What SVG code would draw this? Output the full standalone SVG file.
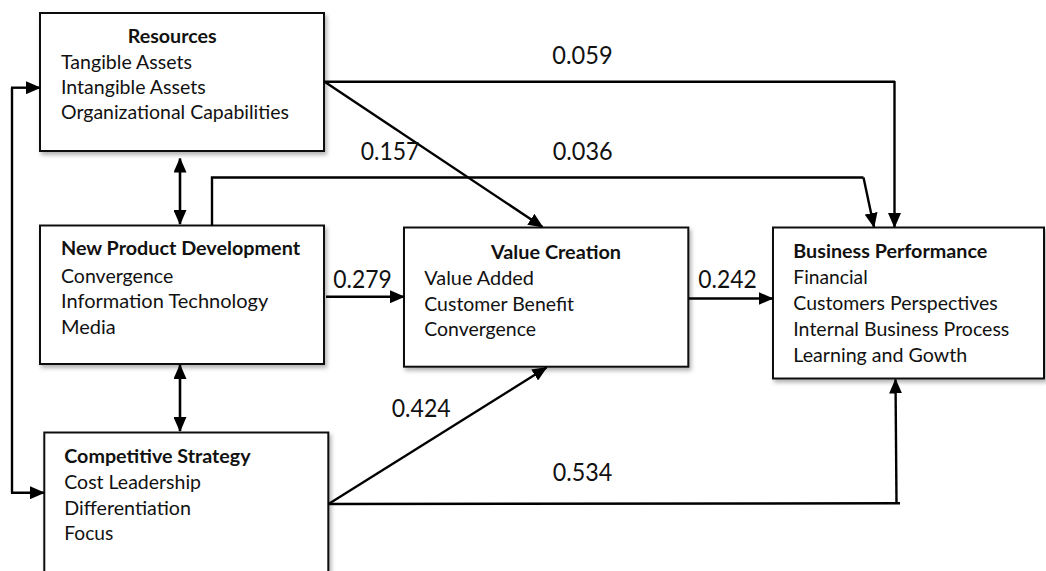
<svg xmlns="http://www.w3.org/2000/svg" width="1046" height="571" viewBox="0 0 1046 571">
  <style>
    .box { fill: #ffffff; stroke: #111111; stroke-width: 2; filter: url(#shadow); }
    .t { font-family: "Lato", "Liberation Sans", sans-serif; font-size: 20px; fill: #111111; }
    .h { font-family: "Lato", "Liberation Sans", sans-serif; font-size: 19.5px; font-weight: bold; fill: #111111; }
    .n { font-family: "Lato", "Liberation Sans", sans-serif; font-size: 25.5px; fill: #111111; }
    .c { fill: none; stroke: #000000; stroke-width: 2.4; }
    .ca { fill: none; stroke: #000000; stroke-width: 2.4; marker-end: url(#ah); }
    .cd { fill: none; stroke: #000000; stroke-width: 2.6; marker-start: url(#ah); marker-end: url(#ah); }
  </style>
  <defs>
    <filter id="shadow" x="-5%" y="-5%" width="115%" height="120%">
      <feDropShadow dx="2" dy="3" stdDeviation="2" flood-color="#000000" flood-opacity="0.3"/>
    </filter>
    <marker id="ah" viewBox="0 0 15 13" refX="14" refY="6.5" markerWidth="15" markerHeight="13" markerUnits="userSpaceOnUse" orient="auto-start-reverse">
      <path d="M0,0 L15,6.5 L0,13 Z" fill="#000000"/>
    </marker>
  </defs>

  <g id="resources">
    <rect class="box" x="40" y="13" width="284" height="138"/>
    <text class="h" x="127.7" y="43.3" textLength="89" lengthAdjust="spacingAndGlyphs">Resources</text>
    <text class="t" x="61" y="69.3" textLength="131" lengthAdjust="spacingAndGlyphs">Tangible Assets</text>
    <text class="t" x="61" y="94.3" textLength="144.7" lengthAdjust="spacingAndGlyphs">Intangible Assets</text>
    <text class="t" x="61" y="119.3" textLength="228" lengthAdjust="spacingAndGlyphs">Organizational Capabilities</text>
  </g>

  <g id="new-product-development">
    <rect class="box" x="40" y="225.5" width="284" height="138.5"/>
    <text class="h" x="61" y="255" textLength="239" lengthAdjust="spacingAndGlyphs">New Product Development</text>
    <text class="t" x="61" y="282.7" textLength="112.3" lengthAdjust="spacingAndGlyphs">Convergence</text>
    <text class="t" x="61" y="308.3" textLength="207.3" lengthAdjust="spacingAndGlyphs">Information Technology</text>
    <text class="t" x="61" y="334" textLength="54.7" lengthAdjust="spacingAndGlyphs">Media</text>
  </g>

  <g id="competitive-strategy">
    <rect class="box" x="44.3" y="432.5" width="284" height="170"/>
    <text class="h" x="64.3" y="462.7" textLength="186.3" lengthAdjust="spacingAndGlyphs">Competitive Strategy</text>
    <text class="t" x="64.3" y="488.7" textLength="136.7" lengthAdjust="spacingAndGlyphs">Cost Leadership</text>
    <text class="t" x="64.3" y="515" textLength="126.7" lengthAdjust="spacingAndGlyphs">Differentiation</text>
    <text class="t" x="64.3" y="540" textLength="49" lengthAdjust="spacingAndGlyphs">Focus</text>
  </g>

  <g id="value-creation">
    <rect class="box" x="404" y="227.5" width="284.3" height="139.2"/>
    <text class="h" x="491" y="259.3" textLength="130" lengthAdjust="spacingAndGlyphs">Value Creation</text>
    <text class="t" x="424.3" y="285" textLength="109.7" lengthAdjust="spacingAndGlyphs">Value Added</text>
    <text class="t" x="424.3" y="310.7" textLength="149.7" lengthAdjust="spacingAndGlyphs">Customer Benefit</text>
    <text class="t" x="424.3" y="336" textLength="111.7" lengthAdjust="spacingAndGlyphs">Convergence</text>
  </g>

  <g id="business-performance">
    <rect class="box" x="773" y="227.5" width="271" height="151"/>
    <text class="h" x="793.3" y="258.3" textLength="194" lengthAdjust="spacingAndGlyphs">Business Performance</text>
    <text class="t" x="793.3" y="284.3" textLength="74.4" lengthAdjust="spacingAndGlyphs">Financial</text>
    <text class="t" x="793.3" y="310" textLength="204.4" lengthAdjust="spacingAndGlyphs">Customers Perspectives</text>
    <text class="t" x="793.3" y="335.5" textLength="216" lengthAdjust="spacingAndGlyphs">Internal Business Process</text>
    <text class="t" x="793.3" y="361.5" textLength="174" lengthAdjust="spacingAndGlyphs">Learning and Gowth</text>
  </g>

  <g id="connectors">
    <path class="c" d="M12,87.7 L12,492.7"/>
    <path class="ca" d="M11,87.7 L40,87.7"/>
    <path class="ca" d="M11,492.7 L44,492.7"/>
    <path class="cd" d="M180,158.5 L180,224"/>
    <path class="cd" d="M180,365 L180,431"/>
    <path class="c" d="M324,81.7 L895,81.7"/>
    <path class="ca" d="M894.5,81 L894.5,227"/>
    <path class="ca" d="M325,82 L542.5,227"/>
    <path class="c" d="M212,225.5 L212,177.5 L863.5,177.5"/>
    <path class="ca" d="M863.5,177.5 L874,227"/>
    <path class="ca" d="M326,296.7 L404,296.7"/>
    <path class="ca" d="M689,298.5 L772.5,298.5"/>
    <path class="ca" d="M328.5,504 L546.5,367.5"/>
    <path class="c" d="M328.5,504 L900,503.3"/>
    <path class="ca" d="M896.5,503.3 L895.5,379.5"/>
  </g>

  <g id="labels">
    <text class="n" x="552.3" y="64" textLength="60.4" lengthAdjust="spacingAndGlyphs">0.059</text>
    <text class="n" x="360.7" y="160" textLength="58.6" lengthAdjust="spacingAndGlyphs">0.157</text>
    <text class="n" x="552.7" y="160" textLength="60" lengthAdjust="spacingAndGlyphs">0.036</text>
    <text class="n" x="333.3" y="288.3" textLength="58.4" lengthAdjust="spacingAndGlyphs">0.279</text>
    <text class="n" x="698.3" y="288.3" textLength="58.4" lengthAdjust="spacingAndGlyphs">0.242</text>
    <text class="n" x="391.7" y="416.7" textLength="59" lengthAdjust="spacingAndGlyphs">0.424</text>
    <text class="n" x="552.7" y="481" textLength="59.6" lengthAdjust="spacingAndGlyphs">0.534</text>
  </g>
</svg>
